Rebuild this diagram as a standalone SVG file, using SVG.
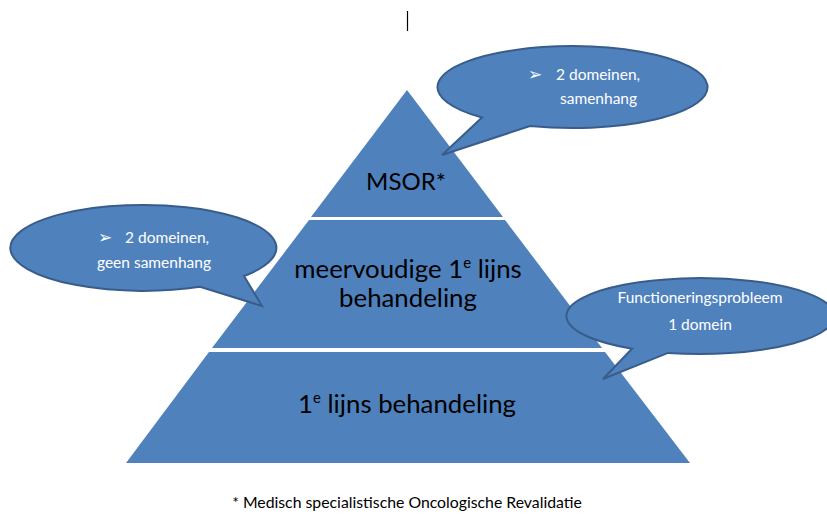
<svg xmlns="http://www.w3.org/2000/svg" width="827" height="514" viewBox="0 0 827 514">
<style>
.band{fill:#4F81BD}
.bubble{fill:#4F81BD;stroke:#385D8A;stroke-width:2;stroke-linejoin:miter}
.bt{font-family:Lato,"Liberation Sans",sans-serif;font-size:15.5px;fill:#FFFFFF}
.ar{font-family:"DejaVu Sans",sans-serif;font-size:17px;fill:#FFFFFF}
.mt{font-family:Lato,"Liberation Sans",sans-serif;font-size:25.8px;fill:#000000;text-anchor:middle}
.ft{font-family:Lato,"Liberation Sans",sans-serif;font-size:15.8px;fill:#000000;text-anchor:middle}
</style>
<rect width="827" height="514" fill="#FFFFFF"/>
<line x1="407.5" y1="11" x2="407.5" y2="31" stroke="#000" stroke-width="1.2"/>
<g id="level-top">
<polygon class="band" points="407,90 503,217 311,217"/>
<text class="mt" x="406" y="190" style="font-size:24px">MSOR*</text>
</g>
<g id="level-middle">
<polygon class="band" points="309,220 505,220 602,348 212,348"/>
<text class="mt" x="408" y="278">meervoudige 1<tspan font-size="15" dy="-10">e</tspan><tspan dy="10"> lijns</tspan></text>
<text class="mt" x="408" y="307">behandeling</text>
</g>
<g id="level-bottom">
<polygon class="band" points="209,352 605,352 690,463 126,463"/>
<text class="mt" x="407" y="413">1<tspan font-size="15" dy="-10">e</tspan><tspan dy="10"> lijns behandeling</tspan></text>
</g>
<g id="callout-top">
<path class="bubble" d="M482,117.5 A135,41 0 1 1 530,126 L442,155 Z"/>
<text class="ar" x="528" y="80">➢</text>
<text class="bt" x="556" y="80">2 domeinen,</text>
<text class="bt" x="560" y="104">samenhang</text>
</g>
<g id="callout-left">
<path class="bubble" d="M200,286.8 A133,43 0 1 1 244,276 L262,306 Z"/>
<text class="ar" x="98" y="243">➢</text>
<text class="bt" x="125" y="243">2 domeinen,</text>
<text class="bt" x="97" y="268">geen samenhang</text>
</g>
<g id="callout-right">
<path class="bubble" d="M632,348.7 A134,38 0 1 1 668,352.9 L603,379 Z"/>
<text class="bt" x="700" y="303" text-anchor="middle">Functioneringsprobleem</text>
<text class="bt" x="700" y="330" text-anchor="middle">1 domein</text>
</g>
<g id="connectors"></g>
<text class="ft" x="407" y="508">* Medisch specialistische Oncologische Revalidatie</text>
</svg>
